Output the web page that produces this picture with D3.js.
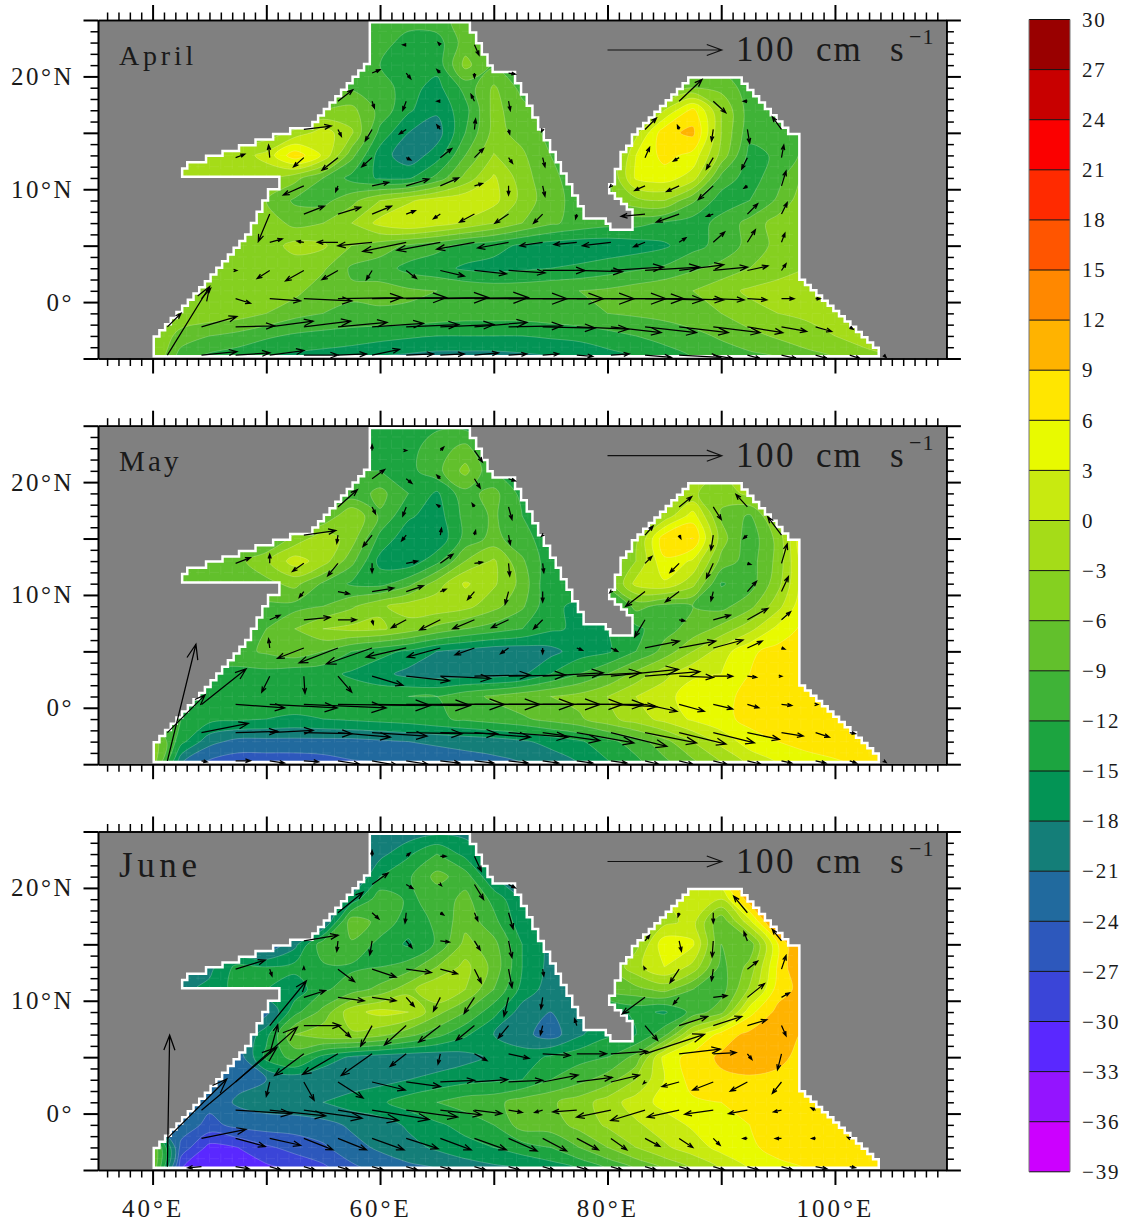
<!DOCTYPE html>
<html>
<head>
<meta charset="utf-8">
<script src="https://cdn.jsdelivr.net/npm/d3@7"></script>
<style>
  html, body { margin: 0; padding: 0; background: #fff; }
  svg { display: block; }
  text { font-family: "Liberation Serif", serif; fill: #1a1a1a; }
</style>
</head>
<body>
<svg id="chart" width="1130" height="1224"></svg>
<script>
// contour levels and the fill of the band that starts at each level
var levels = [-39,-36,-33,-30,-27,-24,-21,-18,-15,-12,-9,-6,-3,0,3,6,9,12,15,18,21,24,27,30];
var bandColors = ["#cc00ff","#9414ff","#5a28ff","#3a45d8","#2d58bc","#216a9e","#147e78","#039455","#1ca440","#3fb337",
  "#62c02c","#85d020","#a5dc18","#c8ea10","#e8fa00","#ffe600","#ffb300","#ff8800","#ff5500","#ff2a00","#fb0000","#c80000","#990000"];

// grid of the field: rows run north to south, a short row repeats its last value over land
var fieldLons = [40,42.5,45,47.5,50,52.5,55,57.5,60,62.5,65,67.5,70,72.5,75,77.5,80,82.5,85,87.5,90,92.5,95,97.5,100,102.5,105];
var fieldLats = [25,23,21,19,17,15,13,11,9,7,5,3,1,-1,-3,-5];

var aprilField = [
  [-10,-10,-10,-10,-10,-10,-10,-10,-10,-11,-10,-8,-8,-9,-10],
  [-10,-10,-10,-10,-10,-10,-10,-11,-11,-13,-13.5,-7.5,-9,-10,-10],
  [-9,-9,-9,-9,-9,-9,-9,-8,-12,-14,-14,-5,-9.5,-11,-11,-10,-10,-10,-10,-10,-10,-10,-10,-10],
  [-9,-9,-9,-9,-9,-9,-10,-9.5,-10,-14,-16,-11,-5.5,-10,-11,-11,-9,-9,-8,-6,-7,-10.5,-11,-10],
  [-9,-9,-9,-9,-9,-9,-6,-5,-10,-14.5,-17.5,-13,-5,-8,-10.5,-10,-9,-8,0,7,-3,-10.5,-10,-8],
  [-5,-5,-5,-5,-5,-2,1.5,-2.5,-13,-18,-19.5,-12,-5,-7,-10,-10,-7,-1,8,9.8,-3,-11,-11.5,-8],
  [-2,-2,-2,-1.5,1,8,2.5,-8,-16.5,-20,-16.5,-9,-2.8,-5.5,-9,-10,-8,3,7,5,-4,-13,-11.5,-8],
  [-2,-2,-2,-2,-2,-5,-9,-13,-15.5,-15.5,-11,-5,0.5,-4.5,-8.5,-10,-7,3.5,4.5,1.5,-10,-13.5,-10,-5],
  [-6,-6,-6,-6,-6,-9.5,-10,-7,-3,-0.5,1.5,2.5,1,-4,-8,-10,-7,-4,-3,-8.5,-13.5,-12,-8.5,-3.5],
  [-4,-4,-4,-4,-4,-7,-6,-3,1,3,1.5,-0.5,-3,-6,-8.5,-10,-11,-11,-12.5,-13.5,-11,-8,-4.5,-3],
  [-4,-4,-4,-4,-4.5,-2,-2.5,-6,-7.5,-9.5,-11,-13,-14,-15.5,-16.5,-17,-17,-16.5,-15.5,-13,-11,-8,-5,-3.5],
  [-4,-4,-4,-4,-4,-4.5,-5.5,-9.5,-10.5,-13,-14,-15.5,-16,-15.5,-15,-14.5,-13.5,-12.5,-11.5,-9.5,-8,-6,-4,-3,-3],
  [-3.5,-3.5,-3.5,-3.5,-4,-5,-8,-8.5,-8,-8.5,-9,-9.5,-10,-10,-9.5,-9,-8.5,-7.5,-6.5,-6,-4,-2.5,-2,-2,-2],
  [-4,-4,-4,-4.5,-6,-8,-9,-9.5,-9.5,-9.5,-10,-10.5,-10.5,-10.5,-10,-9.5,-9,-8.5,-8,-7,-6,-4,-3,-2.5,-2,-2],
  [-3.5,-7,-9,-10,-11.5,-12.5,-13,-13.5,-14,-14.5,-15,-15,-15,-15,-14.5,-14,-13,-12,-11,-10,-8.5,-7,-5.5,-4,-3,-2],
  [-3,-11,-13,-14,-15,-16,-16.5,-17,-18,-19,-19.5,-19.5,-19.5,-19,-18.5,-18,-16.5,-15,-13.5,-12,-11,-10,-9,-7.5,-6,-4,-3]
];

var mayField = [
  [-14,-14,-14,-14,-14,-14,-14,-14,-14,-13.5,-12.5,-13,-13],
  [-14,-14,-14,-14,-14,-14,-14,-14,-13.5,-13,-10.5,-8,-13,-14],
  [-13,-13,-13,-13,-13,-13,-13,-12,-12,-13,-10,-5,-12,-14,-14,-10,-6,-4,-3,-2.5,-2.5,0.5,2],
  [-11,-11,-11,-11,-11,-11,-11,-11,-8,-12,-15.5,-10,-8,-13,-14,-12,-8,-6,-4,-2.5,-5,-2,2,3],
  [-10,-10,-10,-10,-10,-10,-9,-3,-9.5,-14.5,-16.5,-11,-8.5,-12,-14,-13,-10,-8,-2,4.5,-6.5,-9.5,-2,3],
  [-9,-9,-9,-9,-10,-5,-1,-4.5,-13,-17,-17.5,-11,-8,-11,-13.5,-13,-8,-4,8,9.1,-4.5,-11,-5,7],
  [-8,-8,-8,-7,-3.5,1.5,-1.5,-8,-16,-17,-13,-6,-2.5,-8.5,-14,-13,-9,-3,5.5,2.5,-7,-10.5,-5,6],
  [-8,-8,-8,-7,-7,-5,-9.5,-12.5,-13,-10,-4.5,0.5,-2.5,-7,-15,-13,-8,1,2.5,-2,-12.3,-10.5,-4,5.5],
  [-9.5,-9.5,-9.5,-9.5,-9.5,-10,-9,-6.5,-3.5,-1.5,-1,-2,-5,-8.5,-14.5,-15.5,-14,-8,-10,-9,-10,-7,-1,6],
  [-10,-10,-10,-10,-9,-6,-3,-2.2,-2.5,-4.5,-7,-9,-10.5,-12,-14.5,-15.5,-15,-12.8,-10,-8,-5,-1,4,7],
  [-10,-10,-10,-10,-8.5,-7,-9,-12,-14,-15.5,-18,-19,-20,-20,-19,-16.5,-15.5,-12,-8,-3,1.5,5.5,7,7],
  [-13,-13,-13,-13,-13,-14,-14,-15.5,-17,-19,-19.5,-19.5,-19.5,-18.5,-15,-12,-9,-5,-1,2.5,3,6,7.5,7.5],
  [-13,-13,-13,-14,-13,-13,-13,-13,-13,-12,-12,-10,-8.5,-7,-6,-5,-3,0,2,4.5,5,7,8,8,8],
  [-12,-12,-14,-14.5,-15,-15.5,-15,-14.5,-14,-13.5,-12.5,-11.5,-10.5,-9.5,-8,-6.5,-4,-1.5,1,3.5,5,7,8,8,8,8],
  [-4,-14,-20,-22,-22,-22,-22,-22,-21.5,-21,-20.5,-20,-19.5,-18.5,-17,-15.5,-13,-10.5,-7,-3,1,4.5,6,7.5,7.5,7],
  [-4,-21,-25,-26,-26,-26,-25.5,-24.5,-24,-23.5,-23,-22.5,-22,-21,-20,-18,-15.5,-13,-10,-7,-3.5,0.5,3,4,5.5,6.5,7]
];

var juneField = [
  [-21,-21,-21,-21,-21,-21,-21,-21,-20.5,-20,-19,-19,-19],
  [-21,-21,-21,-21,-21,-21,-21,-21.5,-19,-15.5,-12,-16,-19,-19],
  [-22,-22,-22,-22,-22,-22,-22,-22,-15,-12.5,-8,-10.5,-18,-19,-19,-15,-6,-2,1,3,6,12.5,15],
  [-20,-20,-20,-20,-20,-20,-20,-17,-10,-12.5,-11,-8,-13,-18,-19,-17,-8,-3,0,1.5,0,11,15,15],
  [-22,-22,-22,-22,-22,-22,-22,-7,-10,-13.5,-11.5,-7,-11,-17,-19,-18,-8,-3,-1,1,-8.5,2,15,15],
  [-24,-24,-24,-24,-24,-19,-10,-9.5,-13,-15.5,-11.5,-5,-8,-15,-19,-18,-8,-4,5,3.5,-9,-8,6,15],
  [-19,-19,-19,-14,-15,-14,-12.5,-12.5,-12,-10.5,-6,-2,-7,-15,-19,-18,-6,-1,3,-1,-10,-5,6.5,14],
  [-19,-19,-17,-14,-15,-17,-12.5,-10.5,-8,-4,0,-3,-9,-16,-19.5,-21,-8,-7,-5,-9,-10.5,-2.5,7.5,10.5],
  [-22,-22,-22,-22,-22,-13,-8,-1,1,0,-5,-9,-14,-19.5,-21,-20,-17,-14,-15.5,-11,-7,5,10,10.5],
  [-22,-22,-22,-22,-16,-6,-4,-3.5,-5,-8,-11,-14.5,-18,-20,-22.5,-18.5,-15.5,-15,-10,1,7.5,9.8,10.5,8.5],
  [-23,-23,-23,-23,-14,-11,-16,-18.5,-19.5,-20,-20,-19,-17.5,-16.5,-14.5,-13,-12,-8,4,7.5,9.5,10.5,10,7.5],
  [-24,-24,-24,-22,-21,-20,-20.5,-20,-19,-18,-17,-16,-15.5,-15,-12,-10,-7.5,-3,3,7.2,8.5,8.6,8,7],
  [-22,-22,-23,-20.5,-19.5,-19,-18,-16.5,-15.5,-13.5,-12,-10.5,-10,-7.5,-6.5,-4.5,-1.5,1.5,4,5.5,6,7,7.5,7.5,7.5],
  [-22,-22,-25,-23,-22.5,-22.5,-22,-20.5,-19.5,-17.5,-15.5,-14,-12,-7.5,-7.5,-5,-2.5,-0.5,1.5,3.5,5,6,7,8,8,8],
  [-6,-25,-31,-30,-27.5,-26,-24.5,-22,-20.5,-19,-17.5,-16,-15,-13.5,-12,-9,-6,-3,-0.5,1.5,4,5.5,7,7.5,7.5,7.5],
  [-6,-30,-33,-32.5,-31,-29.5,-28,-25,-23,-22,-21,-20,-19,-18,-17,-15,-12,-9,-6,-3,0,3,5,6,7,7,7]
];

// current vectors: lon, lat, u, v (cm/s)
var aprilArrows = [
  [62.3,22.8,-3,0],[65.3,22.8,-2,2],[68.3,22.8,4,-9],
  [59.3,20.3,7,3],[62.3,20.3,4,-5],[65.3,20.3,-3,3],[68.3,20.3,0,-4],[71.3,20.3,6,-1],
  [56.3,17.8,13,10],[59.3,17.8,2,-6],[62.3,17.8,-3,-8],[65.3,17.8,-3,0],[68.3,17.8,-3,6],[71.3,17.8,1.5,-8],[86.3,17.8,20,19],[89.3,17.8,11,-10],[92.3,17.8,-3.5,0],
  [53.3,15.3,24,3],[56.3,15.3,3,-6],[59.3,15.3,-6,-10],[62.3,15.3,-6,-4],[65.3,15.3,-3,4],[68.3,15.3,1,9],[71.3,15.3,1,-4],[74.3,15.3,-1,-2],[83.3,15.3,10,10],[86.3,15.3,-1.5,3.5],[89.3,15.3,-1.5,-10],[92.3,15.3,2,-12],[95.3,15.3,-8,11],
  [47.3,12.8,8,3],[50.3,12.8,-1,11],[53.3,12.8,-9,-8],[56.3,12.8,-14,-11],[59.3,12.8,-9,-8],[62.3,12.8,4,-2],[65.3,12.8,10,8],[68.3,12.8,8,8],[71.3,12.8,3.5,-5],[74.3,12.8,2,-8],[83.3,12.8,4,9],[86.3,12.8,-5,-3],[89.3,12.8,-6,-10],[92.3,12.8,-5,-10],[95.3,12.8,2,11],
  [53.3,10.3,-18,-8],[56.3,10.3,-2,-5],[59.3,10.3,14.5,3],[62.3,10.3,20,6],[65.3,10.3,16,7],[68.3,10.3,7,2],[71.3,10.3,0,-8],[74.3,10.3,2,-9],[80.3,10.3,-1,-1],[83.3,10.3,-9,-4],[86.3,10.3,-11,-5],[89.3,10.3,-13,-12],[92.3,10.3,-3,-2],[95.3,10.3,4,13],
  [50.3,7.8,-10,-24],[53.3,7.8,18,7],[56.3,7.8,20,6],[59.3,7.8,17,7],[62.3,7.8,8,3],[65.3,7.8,-6,-4],[68.3,7.8,-13,-7],[71.3,7.8,-12,-8],[74.3,7.8,-8,-8],[77.3,7.8,-1,-4],[83.3,7.8,-21,-2],[86.3,7.8,-20,-7],[89.3,7.8,-6,-2],[92.3,7.8,9,9],[95.3,7.8,5,10],
  [50.3,5.3,11,3],[53.3,5.3,-6,1],[56.3,5.3,-18,0],[59.3,5.3,-30,-3],[62.3,5.3,-38,-8],[65.3,5.3,-38,-7],[68.3,5.3,-33,-6],[71.3,5.3,-27,-5],[74.3,5.3,-20,-3],[77.3,5.3,-20,-2],[80.3,5.3,-25,-3],[83.3,5.3,-10,-4],[86.3,5.3,6,4],[89.3,5.3,10,9],[92.3,5.3,7,11],[95.3,5.3,3,8],
  [47.3,2.8,1,0],[50.3,2.8,-11,-7],[53.3,2.8,-16,-9],[56.3,2.8,-14,-8],[59.3,2.8,-5,-8],[62.3,2.8,9,-7],[65.3,2.8,21,-5],[68.3,2.8,28,-3],[71.3,2.8,32,-2],[74.3,2.8,37,0],[77.3,2.8,40,-1],[80.3,2.8,46,3],[83.3,2.8,48,3],[86.3,2.8,39,5],[89.3,2.8,30,3],[92.3,2.8,18,4],[95.3,2.8,4,6],
  [44.3,0.3,8,9],[47.3,0.3,13,-4],[50.3,0.3,27,-2],[53.3,0.3,42,-2],[56.3,0.3,56,1],[59.3,0.3,65,1],[62.3,0.3,72,1],[65.3,0.3,77,1],[68.3,0.3,81,0],[71.3,0.3,83,0],[74.3,0.3,80,0],[77.3,0.3,78,0],[80.3,0.3,64,0],[83.3,0.3,51,-1],[86.3,0.3,39,-1],[89.3,0.3,27,-1],[92.3,0.3,17,-1],[95.3,0.3,11,0],[98.3,0.3,4,0],
  [41.3,-2.2,12,12],[44.3,-2.2,31,9],[47.3,-2.2,34,1],[50.3,-2.2,38,5],[53.3,-2.2,41,5],[56.3,-2.2,43,4],[59.3,-2.2,45,3],[62.3,-2.2,46,2],[65.3,-2.2,47,2],[68.3,-2.2,46,4],[71.3,-2.2,47,1],[74.3,-2.2,46,-1],[77.3,-2.2,45,-2],[80.3,-2.2,44,-5],[83.3,-2.2,45,-5],[86.3,-2.2,43,-5],[89.3,-2.2,41,-5],[92.3,-2.2,31,-5],[95.3,-2.2,22,-4],[98.3,-2.2,14,-4],[101.3,-2.2,3,-2],
  [41.3,-4.7,37,60],[44.3,-4.7,31,3],[47.3,-4.7,30,2],[50.3,-4.7,30,4],[53.3,-4.7,30,0],[56.3,-4.7,25,1],[59.3,-4.7,24,5],[62.3,-4.7,24,1],[65.3,-4.7,21,1],[68.3,-4.7,21,2],[71.3,-4.7,16,1],[74.3,-4.7,14,1],[77.3,-4.7,14,-1],[80.3,-4.7,16,1],[83.3,-4.7,23,-2],[86.3,-4.7,36,-2],[89.3,-4.7,17,-3],[92.3,-4.7,11,-3],[95.3,-4.7,13,-3],[98.3,-4.7,10,-3],[101.3,-4.7,9,-3],[104.3,-4.7,2,-2]
];

var mayArrows = [
  [59.3,22.8,0,5],[62.3,22.8,0.3,0],[65.3,22.8,3,3],[68.3,22.8,7,-10],
  [59.3,20.3,11,8],[62.3,20.3,5,-4],[65.3,20.3,-3,3],[68.3,20.3,5,-8],[71.3,20.3,6,-2],
  [56.3,17.8,17,15],[59.3,17.8,3,-6],[62.3,17.8,-3,-8],[65.3,17.8,-3,2],[68.3,17.8,-2,3],[71.3,17.8,3,-11],[86.3,17.8,11,9],[89.3,17.8,7,-11],[92.3,17.8,-10,11],
  [53.3,15.3,28,4],[56.3,15.3,-1,-7],[59.3,15.3,-8,-10],[62.3,15.3,-4,-5],[65.3,15.3,1,6],[68.3,15.3,1,4],[71.3,15.3,1.5,-8],[74.3,15.3,-1,-1],[83.3,15.3,7,8],[86.3,15.3,1.5,-3],[89.3,15.3,-2,-13],[92.3,15.3,-3.5,-3],[95.3,15.3,-12,16],
  [47.3,12.8,13,5],[50.3,12.8,0,8],[53.3,12.8,-10,-7],[56.3,12.8,-9,-11],[59.3,12.8,0,-8],[62.3,12.8,10,2],[65.3,12.8,11,8],[68.3,12.8,7,1],[71.3,12.8,1,-11],[74.3,12.8,1,-8],[83.3,12.8,6,6],[86.3,12.8,-8,-8],[89.3,12.8,-6,-13],[92.3,12.8,3,-1],[95.3,12.8,5,17],
  [53.3,10.3,-4,-5],[56.3,10.3,10,-2],[59.3,10.3,19,3],[62.3,10.3,15,5],[65.3,10.3,5,2],[68.3,10.3,-6,-7],[71.3,10.3,-3,-11],[74.3,10.3,0,-9],[80.3,10.3,-1,-1],[83.3,10.3,-17,-13],[86.3,10.3,-12,-9],[89.3,10.3,-2,-8],[92.3,10.3,8,9],[95.3,10.3,6,13],
  [50.3,7.8,9,4],[53.3,7.8,23,2],[56.3,7.8,16,0],[59.3,7.8,1,-4],[62.3,7.8,-13,-7],[65.3,7.8,-18,-9],[68.3,7.8,-19,-8],[71.3,7.8,-15,-7],[74.3,7.8,-8,-8],[83.3,7.8,-9,-15],[86.3,7.8,5,-1],[89.3,7.8,15,4],[92.3,7.8,18,10],[95.3,7.8,8,7],
  [50.3,5.3,-1,8],[53.3,5.3,-23,-9],[56.3,5.3,-34,-13],[59.3,5.3,-40,-14],[62.3,5.3,-35,-8],[65.3,5.3,-29,-8],[68.3,5.3,-17,-6],[71.3,5.3,-7,-5],[74.3,5.3,0,-5],[77.3,5.3,5,-2],[80.3,5.3,6,-3],[83.3,5.3,30,6],[86.3,5.3,32,6],[89.3,5.3,26,7],[92.3,5.3,13,6],[95.3,5.3,3,-1],
  [50.3,2.8,-7,-14],[53.3,2.8,1,-15],[56.3,2.8,12,-14],[59.3,2.8,27,-8],[62.3,2.8,38,-4],[65.3,2.8,44,-2],[68.3,2.8,49,1],[71.3,2.8,50,1],[74.3,2.8,53,3],[77.3,2.8,56,3],[80.3,2.8,59,6],[83.3,2.8,48,4],[86.3,2.8,30,-1],[89.3,2.8,17,0],[92.3,2.8,8,-1],[95.3,2.8,0.3,0],
  [44.3,0.3,39,31],[47.3,0.3,43,-3],[50.3,0.3,59,-3],[53.3,0.3,72,-3],[56.3,0.3,81,-1],[59.3,0.3,86,-1],[62.3,0.3,86,0],[65.3,0.3,87,0],[68.3,0.3,87,0],[71.3,0.3,80,0],[74.3,0.3,70,0],[77.3,0.3,59,0],[80.3,0.3,40,-2],[83.3,0.3,28,-6],[86.3,0.3,22,-6],[89.3,0.3,17,-4],[92.3,0.3,10,-3],[95.3,0.3,9,-1],[98.3,0.3,2,0],
  [41.3,-2.2,33,33],[44.3,-2.2,41,8],[47.3,-2.2,37,1],[50.3,-2.2,38,2],[53.3,-2.2,42,-1],[56.3,-2.2,46,-4],[59.3,-2.2,48,-3],[62.3,-2.2,49,-1],[65.3,-2.2,50,-1],[68.3,-2.2,49,-4],[71.3,-2.2,52,-4],[74.3,-2.2,50,-7],[77.3,-2.2,50,-9],[80.3,-2.2,49,-12],[83.3,-2.2,45,-9],[86.3,-2.2,41,-10],[89.3,-2.2,36,-9],[92.3,-2.2,28,-6],[95.3,-2.2,19,-3],[98.3,-2.2,12,-4],[101.3,-2.2,5,-1],
  [41.3,-4.7,25,102],[44.3,-4.7,5,-1],[47.3,-4.7,13,0],[50.3,-4.7,13,-2],[53.3,-4.7,13,-1],[56.3,-4.7,19,-3],[59.3,-4.7,22,-4],[62.3,-4.7,19,-3],[65.3,-4.7,17,-2],[68.3,-4.7,17,-2],[71.3,-4.7,17,-2],[74.3,-4.7,14,-2],[77.3,-4.7,14,-2],[80.3,-4.7,14,-2],[83.3,-4.7,12,-3],[86.3,-4.7,12,-3],[89.3,-4.7,12,-3],[92.3,-4.7,12,-3],[95.3,-4.7,9,-2],[98.3,-4.7,9,-2],[101.3,-4.7,6,-2],[104.3,-4.7,2,-1.5]
];

var juneArrows = [
  [59.3,22.8,0,5],[62.3,22.8,3.5,3],[65.3,22.8,5,0],[68.3,22.8,6,-13],
  [59.3,20.3,14,10],[62.3,20.3,6,-3.5],[65.3,20.3,1,-1],[68.3,20.3,8,-13],[71.3,20.3,6,-3],
  [56.3,17.8,22,18],[59.3,17.8,6,-5.5],[62.3,17.8,-1,-9],[65.3,17.8,3,-2],[68.3,17.8,3,-7],[71.3,17.8,4,-14],[86.3,17.8,-1,-3.5],[89.3,17.8,0,-9],[92.3,17.8,-12,14.5],
  [53.3,15.3,30,5],[56.3,15.3,-1,-9],[59.3,15.3,-2,-12],[62.3,15.3,5,-6],[65.3,15.3,8,-1],[68.3,15.3,5,-8],[71.3,15.3,3,-14.5],[83.3,15.3,4,5],[86.3,15.3,2,-9],[89.3,15.3,-1,-14],[92.3,15.3,-3,8],[95.3,15.3,-8,10],
  [47.3,12.8,26,8],[50.3,12.8,2,-6],[53.3,12.8,0,2],[56.3,12.8,14.5,-11],[59.3,12.8,21,-7],[62.3,12.8,22,-3],[65.3,12.8,15,-4],[68.3,12.8,6,-12],[71.3,12.8,3,-16],[74.3,12.8,1,-6],[83.3,12.8,-1,2],[86.3,12.8,-8,-12],[89.3,12.8,-1.5,-10],[92.3,12.8,9,7],[95.3,12.8,4,12],
  [53.3,10.3,19,6],[56.3,10.3,23,-3],[59.3,10.3,21,-3],[62.3,10.3,7,-8],[65.3,10.3,-6,-12],[68.3,10.3,-9,-14],[71.3,10.3,-4,-16.5],[74.3,10.3,-1.5,-10],[83.3,10.3,-20,-14.5],[86.3,10.3,-5,-6],[89.3,10.3,12,1.5],[92.3,10.3,15,12],[95.3,10.3,7,4],
  [50.3,7.8,32,39],[53.3,7.8,32,0],[56.3,7.8,11,-10],[59.3,7.8,-10,-18],[62.3,7.8,-19,-17],[65.3,7.8,-19,-14.5],[68.3,7.8,-16,-13],[71.3,7.8,-9,-11],[74.3,7.8,-2,-8],[77.3,7.8,-2,6],[83.3,7.8,11,-13],[86.3,7.8,25,8],[89.3,7.8,25,8],[92.3,7.8,17,5],[95.3,7.8,4,-9],
  [50.3,5.3,7,25.5],[53.3,5.3,-25.5,-19],[56.3,5.3,-31,-18],[59.3,5.3,-27,-19],[62.3,5.3,-14,-11],[65.3,5.3,-2,-9],[68.3,5.3,11,-6],[71.3,5.3,18,-4],[74.3,5.3,24,-1.5],[77.3,5.3,26,0],[80.3,5.3,32,2],[83.3,5.3,52,17],[86.3,5.3,36,4],[89.3,5.3,20,1],[92.3,5.3,4,-5],[95.3,5.3,-3.5,-14],
  [47.3,2.8,54,48],[50.3,2.8,-3,-12.5],[53.3,2.8,9,-16],[56.3,2.8,22,-14],[59.3,2.8,29,-7],[62.3,2.8,30,-4],[65.3,2.8,30,1.5],[68.3,2.8,29,2],[71.3,2.8,30,1.5],[74.3,2.8,31,6],[77.3,2.8,31,4],[80.3,2.8,25,6],[83.3,2.8,-1.5,-1.5],[86.3,2.8,-15,-4],[89.3,2.8,-18,-7],[92.3,2.8,-15,-8],[95.3,2.8,-8,-10],
  [44.3,0.3,66,55],[47.3,0.3,49,-3],[50.3,0.3,49,-5],[53.3,0.3,51,-7],[56.3,0.3,53,-9],[59.3,0.3,50,-8],[62.3,0.3,45,-6],[65.3,0.3,36,-4],[68.3,0.3,24,-3],[71.3,0.3,12,-2],[74.3,0.3,-7,-2],[77.3,0.3,-21,-1.5],[80.3,0.3,-30,-6],[83.3,0.3,-30,-9],[86.3,0.3,-28,-6],[89.3,0.3,-25,-3.5],[92.3,0.3,-16.5,-3],[95.3,0.3,-7,-1.5],[98.3,0.3,-4,2],
  [41.3,-2.2,52,52],[44.3,-2.2,39,8],[47.3,-2.2,26,-7],[50.3,-2.2,27,-6],[53.3,-2.2,25.5,-10],[56.3,-2.2,25,-10],[59.3,-2.2,28,-10],[62.3,-2.2,28,-9],[65.3,-2.2,27,-10],[68.3,-2.2,28,-10],[71.3,-2.2,25,-11],[74.3,-2.2,21,-11],[77.3,-2.2,19,-10],[80.3,-2.2,14,-10],[83.3,-2.2,13,-7],[86.3,-2.2,12,-8],[89.3,-2.2,6,-6],[92.3,-2.2,-4,0],[95.3,-2.2,-5.5,0],[98.3,-2.2,-3.5,0],[101.3,-2.2,-2,1],
  [41.3,-4.7,2,115],[44.3,-4.7,-12,-1],[47.3,-4.7,12,-2],[50.3,-4.7,10,-3],[53.3,-4.7,10,-3],[56.3,-4.7,10,-3],[59.3,-4.7,10,-3],[62.3,-4.7,10,-3],[65.3,-4.7,10,-3],[68.3,-4.7,10,-3],[71.3,-4.7,10,-3],[74.3,-4.7,10,-3],[77.3,-4.7,10,-3],[80.3,-4.7,10,-3],[83.3,-4.7,10,-3],[86.3,-4.7,10,-3],[89.3,-4.7,10,-3],[92.3,-4.7,10,-3],[95.3,-4.7,10,-3],[98.3,-4.7,10,-2],[101.3,-4.7,5,-1]
];

// coast of the model basin: lon, lat, number of stair steps from the previous corner
var coastCorners = [
  [40.1,-4.8,0],[40.1,-3.05,0],[40.6,-3.05,0],[45.1,1.85,9],[48.65,6,7],[50.65,10,4],[51.15,10,0],[51.15,11.1,0],
  [42.6,11.1,0],[42.6,11.85,0],[43.05,11.85,0],[43.05,12.4,0],[44.7,12.4,0],[44.7,12.97,0],[46.15,12.97,0],[46.15,13.4,0],
  [47.6,13.4,0],[47.6,13.9,0],[49.05,13.9,0],[49.05,14.4,0],[50.6,14.4,0],[50.6,14.9,0],[52.1,14.9,0],[52.1,15.4,0],[54.05,15.4,0],
  [59.1,21.1,10],[59.1,24.8,0],[67.9,24.8,0],
  [68.45,23.9,1],[68.95,22.95,1],[69.45,21.95,1],[69.9,20.97,1],[71.87,20.4,1],[72.4,19.4,1],[72.9,18.4,1],[73.4,17.4,1],
  [73.9,16.35,1],[74.4,15.3,1],[74.95,14.35,1],[75.45,13.3,1],[75.9,12.4,1],[76.4,11.4,1],[76.9,10.45,1],[77.4,9.45,1],[77.9,8.5,1],
  [79.85,7.4,1],[80.25,6.95,1],[82.2,6.4,1],[82.2,8.2,0],[81.7,8.2,0],[81.7,8.7,0],[81.2,8.7,0],[81.2,9.15,0],[80.65,9.15,0],[80.65,9.65,0],
  [80.15,9.65,0],[80.15,10.45,0],[80.65,10.45,0],[80.65,11.8,0],[81.15,11.8,0],[81.15,13.3,0],[81.65,13.3,0],[81.65,13.85,0],[82.15,13.85,0],[82.15,14.35,0],
  [87.6,19.9,11],[91.8,19.9,0],[96.4,14.9,9],[96.87,14.9,0],[96.87,2.45,0],[103.85,-4.05,14],[103.85,-4.8,0]
];

var lonMajor = [40,50,60,70,80,90,100];
var lonLabels = [40,60,80,100];
var latMajor = [-5,0,5,10,15,20,25];
var latLabels = [0,10,20];
var referenceSpeed = 100;

var panels = [
  {name: "April", size: 28, spacing: 3.8, field: aprilField, arrows: aprilArrows, top: 20},
  {name: "May", size: 29, spacing: 3.2, field: mayField, arrows: mayArrows, top: 425.7},
  {name: "June", size: 35, spacing: 4.6, field: juneField, arrows: juneArrows, top: 831.5}
];

var panelHeight = 338.5;
var speedScale = 1.143; // px per cm/s

var svg = d3.select("#chart");
var x = d3.scaleLinear().domain([35.2, 109.8]).range([98, 946.4]);

function latLabel(d) { return d === 0 ? "0°" : d + "°N"; }
function lonLabel(d) { return d + "°E"; }

function fullRow(row) {
  var out = row.slice();
  while (out.length < fieldLons.length) out.push(out[out.length - 1]);
  return out;
}

// expand the corners into the staircase of the coastline
function coastPoints() {
  var points = [];
  coastCorners.forEach(function (c, i) {
    if (i === 0 || c[2] === 0) { points.push([c[0], c[1]]); return; }
    var prev = coastCorners[i - 1];
    var dLon = (c[0] - prev[0]) / c[2], dLat = (c[1] - prev[1]) / c[2];
    d3.range(1, c[2] + 1).forEach(function (k) {
      points.push([prev[0] + dLon * (k - 1), prev[1] + dLat * k]);
      points.push([prev[0] + dLon * k, prev[1] + dLat * k]);
    });
  });
  return points;
}

function drawAxis(g, axisFn, scale, values, size, width, tx, ty) {
  var a = g.append("g").attr("transform", "translate(" + tx + "," + ty + ")")
    .call(axisFn(scale).tickValues(values).tickSize(size).tickSizeOuter(0).tickFormat(""));
  a.selectAll("line").attr("stroke", "#000").attr("stroke-width", width);
  a.selectAll(".domain").attr("stroke", "#000").attr("stroke-width", 1.6);
}

function drawPanel(p, i) {
  var left = x.range()[0], right = x.range()[1], bottom = p.top + panelHeight;
  var y = d3.scaleLinear().domain([25, -5]).range([p.top, bottom]);
  var g = svg.append("g");
  var pts = coastPoints().map(function (c) { return [x(c[0]), y(c[1])]; });
  var coastPath = "M" + pts.join("L") + "Z";

  g.append("rect").attr("x", left).attr("y", p.top).attr("width", right - left).attr("height", panelHeight).attr("fill", "#808080");

  var defs = g.append("defs");
  defs.append("clipPath").attr("id", "basin" + i).append("path").attr("d", coastPath);
  defs.append("clipPath").attr("id", "frame" + i).append("rect")
    .attr("x", left).attr("y", p.top).attr("width", right - left).attr("height", panelHeight);

  // filled contours, lowest level first
  var values = d3.merge(p.field.map(fullRow));
  var contours = d3.contours().size([fieldLons.length, fieldLats.length]).smooth(true)
    .thresholds(levels.slice(0, -1))(values);
  var lonStep = fieldLons[1] - fieldLons[0], latStep = fieldLats[1] - fieldLats[0];
  var ring = d3.line()
    .x(function (d) { return x(fieldLons[0] + (d[0] - 0.5) * lonStep); })
    .y(function (d) { return y(fieldLats[0] + (d[1] - 0.5) * latStep); })
    .curve(d3.curveCatmullRomClosed.alpha(0.5));

  var sea = g.append("g").attr("clip-path", "url(#basin" + i + ")");
  sea.append("path").attr("d", coastPath).attr("fill", bandColors[0]);
  sea.selectAll("path.band").data(contours).enter().append("path")
    .attr("class", "band")
    .attr("fill-rule", "evenodd")
    .attr("fill", function (d) { return bandColors[levels.indexOf(d.value)]; })
    .attr("stroke", "#fff").attr("stroke-opacity", 0.28).attr("stroke-width", 0.8)
    .attr("d", function (d) {
      return d.coordinates.map(function (polygon) {
        return polygon.map(function (r) { return ring(r.slice(0, -1)); }).join("");
      }).join("");
    });

  // faint cell seams of the original raster
  sea.selectAll("line.lonSeam").data(d3.range(40, 105)).enter().append("line").attr("class", "lonSeam")
    .attr("x1", function (d) { return x(d); }).attr("x2", function (d) { return x(d); })
    .attr("y1", p.top).attr("y2", bottom);
  sea.selectAll("line.latSeam").data(d3.range(-5, 25)).enter().append("line").attr("class", "latSeam")
    .attr("y1", function (d) { return y(d); }).attr("y2", function (d) { return y(d); })
    .attr("x1", left).attr("x2", right);
  sea.selectAll("line").attr("stroke", "#fff").attr("stroke-opacity", 0.1).attr("stroke-width", 0.7)
    .attr("stroke-dasharray", "9 5");

  g.append("path").attr("d", coastPath).attr("fill", "none").attr("stroke", "#fff").attr("stroke-width", 2.5);

  // current arrows
  var vectors = g.append("g").attr("clip-path", "url(#frame" + i + ")");
  vectors.selectAll("path").data(p.arrows).enter().append("path")
    .attr("fill", "none").attr("stroke", "#000").attr("stroke-width", 1.25)
    .attr("d", function (d) { return arrowPath(x(d[0]), y(d[1]), d[2] * speedScale, -d[3] * speedScale); });

  // reference arrow and its label
  var refY = p.top + 30;
  g.append("path").attr("fill", "none").attr("stroke", "#111").attr("stroke-width", 1.2)
    .attr("d", arrowPath(x(80), refY, referenceSpeed * speedScale, 0));
  var refLabel = g.append("text").attr("y", p.top + 41).attr("font-size", 35);
  refLabel.append("tspan").attr("x", 736).attr("letter-spacing", 2.5).text("100");
  refLabel.append("tspan").attr("x", 816).attr("letter-spacing", 2).text("cm");
  refLabel.append("tspan").attr("x", 890).text("s");
  g.append("text").attr("x", 909).attr("y", p.top + 24).attr("font-size", 22).attr("letter-spacing", 1).text("−1");

  g.append("text").attr("x", 119).attr("y", p.top + 45).attr("font-size", p.size)
    .attr("letter-spacing", p.spacing).text(p.name);

  // ticks on all four sides
  var lonMinor = d3.range(36, 110).filter(function (d) { return lonMajor.indexOf(d) < 0; });
  var latMinor = d3.range(-5, 26).filter(function (d) { return latMajor.indexOf(d) < 0; });
  drawAxis(g, d3.axisTop, x, lonMinor, 7.5, 1.5, 0, p.top);
  drawAxis(g, d3.axisTop, x, lonMajor, 15, 2, 0, p.top);
  drawAxis(g, d3.axisBottom, x, lonMinor, 7.5, 1.5, 0, bottom);
  drawAxis(g, d3.axisBottom, x, lonMajor, 15, 2, 0, bottom);
  drawAxis(g, d3.axisLeft, y, latMinor, 7.5, 1.5, left, 0);
  drawAxis(g, d3.axisLeft, y, latMajor, 14.5, 2, left, 0);
  drawAxis(g, d3.axisRight, y, latMinor, 7.5, 1.5, right, 0);
  drawAxis(g, d3.axisRight, y, latMajor, 14.5, 2, right, 0);

  var yLabels = g.append("g").attr("transform", "translate(" + left + ",0)")
    .call(d3.axisLeft(y).tickValues(latLabels).tickSize(0).tickPadding(24).tickFormat(latLabel));
  yLabels.select(".domain").remove();
  yLabels.selectAll("text").attr("font-size", 25).attr("letter-spacing", 2.5)
    .attr("font-family", "Liberation Serif").attr("fill", "#1a1a1a");

  if (i === panels.length - 1) {
    var xLabels = g.append("g").attr("transform", "translate(0," + bottom + ")")
      .call(d3.axisBottom(x).tickValues(lonLabels).tickSize(0).tickPadding(29).tickFormat(lonLabel));
    xLabels.select(".domain").remove();
    xLabels.selectAll("text").attr("font-size", 25).attr("letter-spacing", 3)
      .attr("font-family", "Liberation Serif").attr("fill", "#1a1a1a");
  }
}

function arrowPath(x0, y0, dx, dy) {
  var len = Math.sqrt(dx * dx + dy * dy);
  if (len === 0) return "";
  var x1 = x0 + dx, y1 = y0 + dy;
  var head = Math.min(15, 3 + 0.14 * len), half = head * 0.37;
  var ux = dx / len, uy = dy / len;
  var bx = x1 - ux * head, by = y1 - uy * head;
  return "M" + x0 + "," + y0 + "L" + x1 + "," + y1 +
    "M" + (bx - uy * half) + "," + (by + ux * half) +
    "L" + x1 + "," + y1 +
    "L" + (bx + uy * half) + "," + (by - ux * half);
}

function drawColorbar() {
  var scale = d3.scaleLinear().domain([-39, 30]).range([1171.8, 19.5]);
  var g = svg.append("g");
  var barLeft = 1029, barRight = 1070;
  g.selectAll("rect").data(bandColors).enter().append("rect")
    .attr("x", barLeft).attr("width", barRight - barLeft)
    .attr("y", function (d, i) { return scale(levels[i + 1]); })
    .attr("height", function (d, i) { return scale(levels[i]) - scale(levels[i + 1]); })
    .attr("fill", function (d) { return d; });
  g.selectAll("line.sep").data(levels).enter().append("line").attr("class", "sep")
    .attr("x1", barLeft).attr("x2", barRight)
    .attr("y1", function (d) { return scale(d); }).attr("y2", function (d) { return scale(d); })
    .attr("stroke", "#111").attr("stroke-width", 1);
  [barLeft, barRight].forEach(function (bx) {
    g.append("line").attr("x1", bx).attr("x2", bx).attr("y1", scale(30)).attr("y2", scale(-39))
      .attr("stroke", "#777").attr("stroke-width", 1);
  });
  var axis = g.append("g").attr("transform", "translate(" + barRight + ",0)")
    .call(d3.axisRight(scale).tickValues(levels).tickSize(0).tickPadding(12)
      .tickFormat(function (d) { return String(d).replace("-", "−"); }));
  axis.select(".domain").remove();
  axis.selectAll("text").attr("font-size", 21).attr("letter-spacing", 1.8)
    .attr("font-family", "Liberation Serif").attr("fill", "#1a1a1a");
}

panels.forEach(drawPanel);
drawColorbar();
</script>
</body>
</html>
